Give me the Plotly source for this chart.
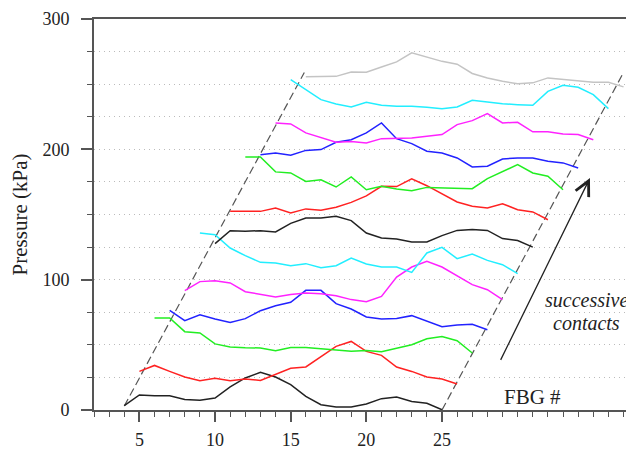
import plotly.graph_objects as go

# FBG index at which each successive contact starts (22 gratings per contact)
contact_start = [4, 5, 6, 7, 8, 9, 10, 11, 12, 13, 14, 15, 16]
n_fbg = 22

p01 = [3.3, 11.5, 11.0, 11.0, 8.1, 7.4, 9.2, 17.7, 24.6, 28.9, 25.3, 19.5, 10.4, 4.1, 2.3, 2.3, 4.6, 8.7, 10.0, 6.6, 5.1, 0.2]
p02 = [29.6, 34.2, 29.6, 25.3, 22.5, 24.3, 22.5, 23.8, 22.7, 27.1, 32.0, 33.0, 41.1, 48.8, 52.6, 45.0, 41.9, 33.0, 29.6, 25.3, 23.8, 20.0]
p03 = [70.6, 70.6, 60.1, 59.1, 50.7, 48.3, 47.8, 47.6, 45.5, 48.0, 48.0, 47.0, 46.0, 45.0, 45.7, 44.7, 47.3, 50.1, 54.7, 56.3, 53.2, 43.7]
p04 = [76.4, 68.5, 73.1, 69.8, 67.2, 70.1, 76.2, 80.0, 82.6, 91.8, 91.8, 81.6, 77.5, 71.4, 69.8, 70.3, 72.4, 68.0, 63.9, 65.2, 65.7, 61.6]
p05 = [91.6, 98.5, 99.2, 97.5, 90.8, 88.5, 86.7, 88.7, 89.8, 89.2, 87.7, 84.7, 83.1, 87.2, 102.0, 109.7, 114.0, 109.7, 103.0, 96.2, 92.3, 84.6]
p06 = [135.8, 134.5, 124.3, 118.4, 113.3, 112.8, 110.7, 112.3, 109.2, 110.7, 116.6, 112.0, 109.7, 109.7, 105.6, 120.5, 124.8, 116.1, 119.7, 114.8, 111.5, 104.6]
p07 = [127.6, 137.6, 137.1, 137.6, 136.6, 143.2, 147.3, 147.3, 148.6, 145.3, 135.8, 132.0, 131.2, 128.9, 128.9, 133.8, 137.8, 138.4, 137.8, 131.5, 130.0, 125.0]
p08 = [152.4, 152.4, 152.4, 155.0, 151.2, 154.3, 153.2, 155.5, 159.3, 164.3, 171.6, 171.4, 177.3, 172.1, 166.0, 159.6, 156.3, 155.0, 158.3, 153.7, 152.0, 146.0]
p09 = [194.2, 194.2, 182.7, 181.9, 175.4, 176.7, 171.1, 178.8, 169.0, 171.6, 169.6, 168.3, 170.8, 170.4, 169.8, 169.8, 177.5, 183.1, 188.3, 181.9, 179.3, 169.0]
p10 = [195.9, 197.2, 195.4, 199.2, 199.8, 205.4, 207.4, 212.6, 220.3, 208.2, 204.4, 198.5, 197.2, 193.4, 186.5, 187.0, 192.6, 193.4, 193.4, 190.8, 189.6, 185.7]
p11 = [220.3, 219.5, 212.6, 208.7, 205.4, 206.1, 204.9, 208.2, 208.7, 208.7, 210.0, 211.3, 219.0, 222.0, 227.4, 220.3, 220.7, 213.4, 213.4, 211.8, 211.3, 207.4]
p12 = [253.5, 245.8, 238.1, 234.8, 232.5, 236.1, 233.8, 233.0, 233.0, 232.2, 231.2, 232.5, 237.6, 236.4, 235.0, 234.3, 233.8, 244.5, 249.1, 247.6, 242.0, 231.2]
p13 = [255.6, 256.0, 256.0, 259.4, 259.1, 263.2, 267.1, 274.0, 270.6, 267.5, 265.3, 258.2, 254.8, 252.2, 250.4, 251.0, 254.8, 253.5, 252.7, 251.4, 251.4, 247.9]

pressures = [p01, p02, p03, p04, p05, p06, p07, p08, p09, p10, p11, p12, p13]
colors = ["#222222", "#FF2222", "#22EE22", "#2222FF", "#FF22FF", "#22EEFF",
          "#222222", "#FF2222", "#22EE22", "#2222FF", "#FF22FF", "#22EEFF", "#C4C4C4"]

# dashed guide lines (waterfall baselines)
guide_left_x = [4, 15.9]
guide_left_y = [3, 259]
guide_right_x = [25, 37]
guide_right_y = [0, 259]

x_tick_vals = [5, 10, 15, 20, 25]
y_tick_vals = [0, 100, 200, 300]

FONT = "Liberation Serif, Times New Roman, serif"
AX = "#555555"

fig = go.Figure()
for gx, gy in [(guide_left_x, guide_left_y), (guide_right_x, guide_right_y)]:
    fig.add_trace(go.Scatter(x=gx, y=gy, mode="lines",
                             line=dict(color="#555555", width=1.2, dash="8px,4px"),
                             showlegend=False, hoverinfo="skip"))
for s, vals, c in zip(contact_start, pressures, colors):
    fig.add_trace(go.Scatter(x=list(range(s, s + n_fbg)), y=vals, mode="lines",
                             line=dict(color=c, width=1.5),
                             showlegend=False, hoverinfo="skip"))

grid = dict(showgrid=True, gridcolor="#BBBBBB", gridwidth=1, griddash="1px,4px")

# page body has an 8px default margin, so the figure is 626x442 to fill 634x450
fig.update_layout(
    width=626, height=442,
    margin=dict(l=86, r=0, t=11, b=40, autoexpand=False),
    paper_bgcolor="white", plot_bgcolor="white",
    font=dict(family=FONT, color="#222222", size=18),
    xaxis=dict(range=[2, 2 + 540 / 15.13], showline=True, linecolor=AX, linewidth=2,
               automargin=False,
               mirror=True, ticks="outside", tickvals=x_tick_vals, ticklen=10,
               tickwidth=1.5, tickcolor=AX, showgrid=False, zeroline=False,
               tickfont=dict(size=18, family=FONT, color="#222222"),
               ticklabelstandoff=2,
               minor=dict(ticks="outside", ticklen=5, dtick=1, tick0=0,
                          tickcolor=AX, tickwidth=1.2, showgrid=False)),
    yaxis=dict(range=[0, 300], showline=True, linecolor=AX, linewidth=2,
               automargin=False,
               ticks="outside", tickvals=y_tick_vals, ticklen=11, tickwidth=1.5,
               tickcolor=AX, zeroline=False,
               tickfont=dict(size=18, family=FONT, color="#222222"),
               ticklabelstandoff=8,
               minor=dict(ticks="outside", ticklen=5, dtick=25, tick0=0,
                          tickcolor=AX, tickwidth=1.2, **grid),
               title=dict(text="Pressure (kPa)", font=dict(size=21, family=FONT),
                          standoff=12),
               **grid),
)

fig.add_annotation(x=30.95, y=10.2, text="FBG #", showarrow=False,
                   font=dict(size=21, family=FONT, color="#222222"),
                   xanchor="center", yanchor="middle")
fig.add_annotation(x=34.56, y=84.7, text="<i>successive</i>", showarrow=False,
                   font=dict(size=20, family=FONT, color="#222222"),
                   xanchor="center", yanchor="middle")
fig.add_annotation(x=34.56, y=66.8, text="<i>contacts</i>", showarrow=False,
                   font=dict(size=20, family=FONT, color="#222222"),
                   xanchor="center", yanchor="middle")
fig.add_annotation(x=34.78, y=178, ax=28.83, ay=37.3, axref="x", ayref="y",
                   text="", showarrow=True, arrowhead=5, arrowsize=2.2,
                   arrowwidth=1.3, arrowcolor="#222222")

fig.write_html("out.html")
